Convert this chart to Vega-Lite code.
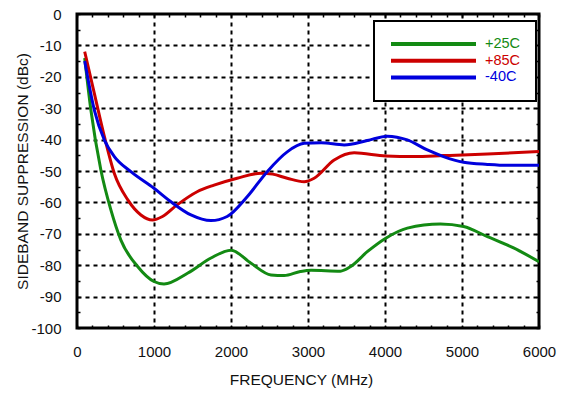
{
  "$schema": "https://vega.github.io/schema/vega-lite/v6.json",
  "width": 462,
  "height": 314,
  "autosize": {"type": "none"},
  "padding": {"left": 77, "top": 14, "right": 25, "bottom": 66},
  "background": "white",
  "config": {
    "view": {"stroke": "black", "strokeWidth": 3},
    "font": "Liberation Sans",
    "axis": {"labelFont": "Liberation Sans", "titleFont": "Liberation Sans", "labelFontSize": 15, "titleFontSize": 15.5, "titleFontWeight": "normal", "labelColor": "#111", "titleColor": "#111", "domain": false}
  },
  "data": {"values": [
    {"s": "+25C", "f": 100, "v": -14}, {"s": "+25C", "f": 180, "v": -30.5}, {"s": "+25C", "f": 310, "v": -49.7}, {"s": "+25C", "f": 440, "v": -62.4}, {"s": "+25C", "f": 570, "v": -72}, {"s": "+25C", "f": 790, "v": -80.5}, {"s": "+25C", "f": 1000, "v": -85.2}, {"s": "+25C", "f": 1130, "v": -86}, {"s": "+25C", "f": 1440, "v": -82.5}, {"s": "+25C", "f": 1740, "v": -77.7}, {"s": "+25C", "f": 2000, "v": -75.2}, {"s": "+25C", "f": 2260, "v": -79.4}, {"s": "+25C", "f": 2520, "v": -83.1}, {"s": "+25C", "f": 2690, "v": -83.3}, {"s": "+25C", "f": 2900, "v": -82}, {"s": "+25C", "f": 3040, "v": -81.6}, {"s": "+25C", "f": 3420, "v": -81.9}, {"s": "+25C", "f": 3550, "v": -80.5}, {"s": "+25C", "f": 3770, "v": -75.7}, {"s": "+25C", "f": 4010, "v": -71.4}, {"s": "+25C", "f": 4290, "v": -68.2}, {"s": "+25C", "f": 4720, "v": -66.9}, {"s": "+25C", "f": 5020, "v": -67.7}, {"s": "+25C", "f": 5330, "v": -70.9}, {"s": "+25C", "f": 5670, "v": -74.5}, {"s": "+25C", "f": 6000, "v": -78.9},
    {"s": "+85C", "f": 100, "v": -12}, {"s": "+85C", "f": 225, "v": -25.3}, {"s": "+85C", "f": 355, "v": -39}, {"s": "+85C", "f": 485, "v": -50.8}, {"s": "+85C", "f": 660, "v": -59.2}, {"s": "+85C", "f": 830, "v": -64}, {"s": "+85C", "f": 980, "v": -65.6}, {"s": "+85C", "f": 1110, "v": -64.5}, {"s": "+85C", "f": 1300, "v": -60.8}, {"s": "+85C", "f": 1560, "v": -56.6}, {"s": "+85C", "f": 1780, "v": -54.5}, {"s": "+85C", "f": 2080, "v": -52.3}, {"s": "+85C", "f": 2390, "v": -50.7}, {"s": "+85C", "f": 2540, "v": -51}, {"s": "+85C", "f": 2730, "v": -52.3}, {"s": "+85C", "f": 2950, "v": -53.4}, {"s": "+85C", "f": 3080, "v": -52.3}, {"s": "+85C", "f": 3340, "v": -46.5}, {"s": "+85C", "f": 3600, "v": -44.2}, {"s": "+85C", "f": 4010, "v": -45.2}, {"s": "+85C", "f": 4380, "v": -45.4}, {"s": "+85C", "f": 4760, "v": -45.1}, {"s": "+85C", "f": 5330, "v": -44.6}, {"s": "+85C", "f": 6000, "v": -43.8},
    {"s": "-40C", "f": 100, "v": -15}, {"s": "-40C", "f": 225, "v": -30.6}, {"s": "-40C", "f": 355, "v": -40.1}, {"s": "-40C", "f": 485, "v": -45.4}, {"s": "-40C", "f": 700, "v": -50.2}, {"s": "-40C", "f": 1000, "v": -55.5}, {"s": "-40C", "f": 1220, "v": -59.8}, {"s": "-40C", "f": 1480, "v": -64}, {"s": "-40C", "f": 1740, "v": -65.8}, {"s": "-40C", "f": 1950, "v": -64.5}, {"s": "-40C", "f": 2210, "v": -58.2}, {"s": "-40C", "f": 2470, "v": -50.2}, {"s": "-40C", "f": 2730, "v": -43.9}, {"s": "-40C", "f": 2950, "v": -41.2}, {"s": "-40C", "f": 3170, "v": -41}, {"s": "-40C", "f": 3470, "v": -41.7}, {"s": "-40C", "f": 3770, "v": -40.3}, {"s": "-40C", "f": 4030, "v": -38.9}, {"s": "-40C", "f": 4290, "v": -40.1}, {"s": "-40C", "f": 4550, "v": -43.3}, {"s": "-40C", "f": 4760, "v": -45.4}, {"s": "-40C", "f": 5020, "v": -47.2}, {"s": "-40C", "f": 5330, "v": -47.9}, {"s": "-40C", "f": 5590, "v": -48.2}, {"s": "-40C", "f": 6000, "v": -48.2}
  ]},
  "layer": [
    {
      "mark": {"type": "line", "interpolate": "monotone", "strokeWidth": 3, "clip": true},
      "encoding": {
        "x": {"field": "f", "type": "quantitative", "scale": {"domain": [0, 6000], "nice": false},
          "axis": {"orient": "bottom", "title": "FREQUENCY (MHz)", "titlePadding": 13, "titleX": 224,
            "values": [0,200,400,600,800,1000,1200,1400,1600,1800,2000,2200,2400,2600,2800,3000,3200,3400,3600,3800,4000,4200,4400,4600,4800,5000,5200,5400,5600,5800,6000],
            "labelExpr": "datum.value % 1000 === 0 ? '' + datum.value : ''", "labelFlush": false, "labelOverlap": false,
            "tickSize": -3, "tickWidth": 1.5, "tickColor": "black", "labelPadding": 19,
            "grid": true, "gridColor": "black", "gridWidth": 2, "gridDash": [4, 4],
            "gridOpacity": {"condition": {"test": "datum.value % 1000 !== 0 || datum.value === 0 || datum.value === 6000", "value": 0}, "value": 1}}},
        "y": {"field": "v", "type": "quantitative", "scale": {"domain": [-100, 0], "nice": false},
          "axis": {"orient": "left", "title": "SIDEBAND SUPPRESSION (dBc)", "titlePadding": 0,
            "values": [-100,-95,-90,-85,-80,-75,-70,-65,-60,-55,-50,-45,-40,-35,-30,-25,-20,-15,-10,-5,0],
            "labelExpr": "datum.value % 10 === 0 ? '' + datum.value : ''", "labelFlush": false, "labelOverlap": false,
            "tickSize": -3, "tickWidth": 1.5, "tickColor": "black", "labelPadding": 19,
            "grid": true, "gridColor": "black", "gridWidth": 2, "gridDash": [4, 4],
            "gridOpacity": {"condition": {"test": "datum.value % 10 !== 0 || datum.value === 0 || datum.value === -100", "value": 0}, "value": 1}}},
        "color": {"field": "s", "type": "nominal", "sort": ["+25C", "+85C", "-40C"],
          "scale": {"domain": ["+25C", "+85C", "-40C"], "range": ["#138a13", "#cc0000", "#0000dd"]},
          "legend": {"orient": "none", "legendX": 297, "legendY": 7, "title": null, "padding": 15,
            "symbolType": "stroke", "symbolSize": 7225, "symbolStrokeWidth": 4, "clipHeight": 16, "rowPadding": 0.7,
            "labelFontSize": 14.5, "labelFont": "Liberation Sans", "labelOffset": 7,
            "strokeColor": "black", "fillColor": "white", "cornerRadius": 0,
            "encode": {"legend": {"update": {"strokeWidth": {"value": 2}}}, "labels": {"update": {"fill": {"scale": "color", "field": "value"}}}}}}
      }
    },
    {
      "mark": {"type": "line", "strokeOpacity": 0},
      "encoding": {
        "x": {"field": "f", "type": "quantitative",
          "axis": {"orient": "top", "title": null, "labels": false, "grid": false,
            "values": [0,200,400,600,800,1000,1200,1400,1600,1800,2000,2200,2400,2600,2800,3000,3200,3400,3600,3800,4000,4200,4400,4600,4800,5000,5200,5400,5600,5800,6000],
            "tickSize": -3, "tickWidth": 1.5, "tickColor": "black"}},
        "y": {"field": "v", "type": "quantitative",
          "axis": {"orient": "right", "title": null, "labels": false, "grid": false,
            "values": [-100,-95,-90,-85,-80,-75,-70,-65,-60,-55,-50,-45,-40,-35,-30,-25,-20,-15,-10,-5,0],
            "tickSize": -3, "tickWidth": 1.5, "tickColor": "black"}},
        "detail": {"field": "s", "type": "nominal"}
      }
    }
  ]
}
